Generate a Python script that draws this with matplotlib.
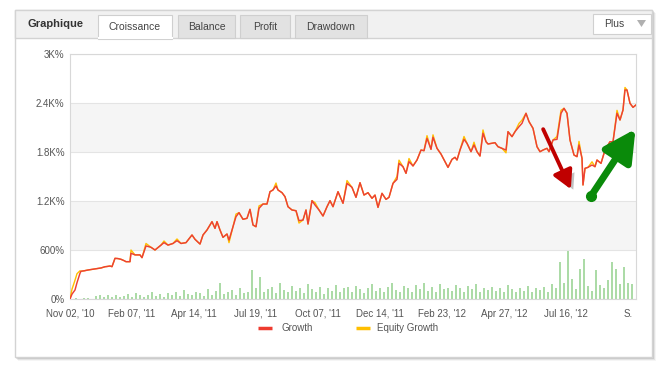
import matplotlib
matplotlib.use("Agg")
import matplotlib.pyplot as plt
from matplotlib.patches import Rectangle, Polygon, FancyArrowPatch
import matplotlib.patheffects as pe

# ---- data (x = point number, y = growth in %) ----
growth_x = [0, 2, 5, 7, 10, 11, 14, 18, 23, 28, 31, 35, 37, 40, 42, 45, 48, 51, 54, 56,
            60, 61, 65, 70, 72, 76, 81, 85, 89, 91, 94, 98, 103, 107, 111, 116, 122, 125, 130, 133,
            137, 142, 145, 147, 150, 153, 157, 159, 163, 166, 169, 173, 177, 180, 183, 186, 189, 193, 197, 200,
            203, 206, 208, 212, 215, 218, 222, 226, 229, 233, 236, 238, 242, 245, 249, 253, 257, 260, 263, 268,
            273, 277, 282, 286, 290, 294, 298, 302, 305, 308, 312, 316, 319, 323, 327, 329, 333, 336, 339, 343,
            347, 351, 354, 357, 361, 363, 367, 371, 375, 378, 382, 385, 387, 390, 394, 397, 401, 404, 407, 410,
            413, 416, 418, 425, 428, 432, 436, 438, 442, 445, 449, 452, 456, 459, 463, 467, 470, 473, 477, 479,
            483, 487, 491, 494, 497, 500, 504, 507, 509, 512, 513, 515, 518, 522, 525, 527, 531, 535, 540, 543,
            547, 550, 553, 555, 557, 560, 563, 566]
growth = [0, 60, 110, 200, 315, 340, 345, 355, 365, 375, 380, 395, 398, 404, 396, 498, 495, 486, 470, 457,
          457, 560, 540, 540, 506, 650, 633, 600, 640, 660, 690, 660, 680, 714, 680, 690, 784, 731, 673, 784,
          845, 947, 865, 947, 845, 755, 796, 722, 885, 1008, 1057, 976, 988, 1098, 906, 885, 1110, 1163, 1163, 1314,
          1335, 1384, 1335, 1302, 1253, 1130, 1090, 1081, 959, 967, 1090, 918, 1204, 1151, 1090, 1016, 1130, 1204, 1130, 1314,
          1172, 1416, 1367, 1245, 1424, 1273, 1302, 1233, 1273, 1122, 1294, 1220, 1245, 1416, 1465, 1661, 1620, 1539, 1682, 1629,
          1702, 1824, 1816, 1967, 1833, 1980, 1845, 1775, 1682, 1612, 1710, 1735, 1702, 1824, 1955, 1906, 1804, 1886, 1804, 1751,
          2029, 1926, 1898, 1914, 1865, 1845, 1824, 2049, 1988, 2049, 2110, 2151, 2274, 2172, 2090, 1865, 1804, 1824, 1845, 1804,
          1947, 1955, 2274, 2335, 2274, 1947, 1763, 1743, 1886, 1723, 1396, 1600, 1612, 1641, 1620, 1702, 1661, 1824, 1926, 1926,
          2274, 2192, 2314, 2559, 2559, 2396, 2347, 2376]
# equity growth follows growth except at these points
equity_diff = {2: 120, 5: 230, 7: 310, 10: 345, 61: 600, 76: 680, 94: 710, 107: 735,
               159: 690, 166: 1040, 189: 1140, 206: 1420, 229: 930, 245: 1180, 277: 1450,
               327: 1500, 329: 1700, 339: 1720, 357: 2000, 363: 2010, 394: 1990, 404: 1920,
               413: 2070, 436: 1790, 449: 2150, 452: 2190, 487: 1990, 491: 2310, 509: 1930,
               522: 1680, 547: 2310, 555: 2590}

bar_vals = [5, 10, 4, 8, 12, 6, 40, 55, 30, 45,
            25, 50, 20, 35, 60, 30, 70, 45, 25, 55,
            80, 40, 65, 30, 75, 50, 85, 35, 110, 60,
            45, 90, 70, 40, 120, 55, 95, 200, 60, 80,
            110, 45, 130, 75, 90, 360, 140, 265, 90, 120,
            150, 70, 200, 110, 85, 160, 95, 130, 70, 180,
            120, 90, 150, 60, 140, 100, 170, 80, 130, 150,
            90, 160, 120, 70, 140, 180, 100, 130, 85, 150,
            200, 110, 90, 160, 130, 80, 170, 120, 190, 100,
            150, 90, 180, 120, 140, 100, 170, 130, 80, 160,
            120, 180, 90, 140, 110, 150, 100, 130, 80, 170,
            120, 90, 140, 100, 160, 80, 130, 110, 150, 90,
            180, 130, 450, 200, 590, 240, 120, 370, 490, 160,
            100, 350, 170, 140, 230, 450, 370, 180, 390, 200,
            180]
bar_x = [2 + 4 * i for i in range(len(bar_vals))]

tick_pos = [0, 62, 124, 186, 248, 310, 372, 434, 496, 558]
tick_labels = ["Nov 02, '10", "Feb 07, '11", "Apr 14, '11", "Jul 19, '11", "Oct 07, '11",
               "Dec 14, '11", "Feb 23, '12", "Apr 27, '12", "Jul 16, '12", "S."]
y_ticks = [0, 600, 1200, 1800, 2400, 3000]
y_labels = ["0%", "600%", "1.2K%", "1.8K%", "2.4K%", "3K%"]

tabs = ["Croissance", "Balance", "Profit", "Drawdown"]

# arrows drawn on the chart (point number, %)
red_arrow = [(472, 2110), (502, 1314)]
green_arrow = [(521, 1261), (567, 2110)]

equity = [equity_diff.get(x, v) for x, v in zip(growth_x, growth)]

plt.rcParams['font.family'] = ['Liberation Sans', 'DejaVu Sans']

W, H = 668, 377
fig = plt.figure(figsize=(W / 100, H / 100), dpi=100)
fig.patch.set_facecolor('white')

# page chrome drawn in pixel space
bg = fig.add_axes([0, 0, 1, 1])
bg.set_xlim(0, W)
bg.set_ylim(H, 0)
bg.axis('off')

for i, a in enumerate([0.10, 0.07, 0.04]):
    bg.add_patch(Rectangle((15 + i + 1, 10 + i + 1), 637 + 1, 347 + 1, facecolor='#000000', alpha=a, lw=0))
bg.add_patch(Rectangle((15, 10), 637, 347, facecolor='white', edgecolor='#d3d3d3', lw=1))
bg.add_patch(Rectangle((15, 10), 637, 28, facecolor='#f1f1f1', edgecolor='#d3d3d3', lw=1))
bg.text(27, 24, "Graphique", fontsize=8, fontweight='bold', color='#333333', va='center')

tab_x = [(98, 172), (178, 235), (240, 290), (295, 367)]
for (x0, x1), name in zip(tab_x, tabs):
    active = name == "Croissance"
    bg.add_patch(Rectangle((x0, 15), x1 - x0, 23 + (1 if active else 0),
                           facecolor='white' if active else '#e2e2e2',
                           edgecolor='#cfcfcf', lw=0.8))
    if active:
        bg.plot([x0 + 0.5, x1 - 0.5], [38.2, 38.2], color='white', lw=1.5)
    bg.text((x0 + x1) / 2, 26.5, name, fontsize=7.5, color='#444444', ha='center', va='center')

bg.add_patch(Rectangle((593, 14), 58, 20, facecolor='white', edgecolor='#d0d0d0', lw=0.8))
bg.text(604, 24, "Plus", fontsize=7.5, color='#444444', va='center')
bg.add_patch(Polygon([(637, 20), (646, 20), (641.5, 27)], closed=True, facecolor='#b0b0b0', lw=0))

# legend
bg.plot([258, 272], [328, 328], color='#ee3b2f', lw=2.5, solid_capstyle='butt')
bg.text(281, 328, "Growth", fontsize=7, color='#555555', va='center')
bg.plot([356, 370], [328, 328], color='#ffbf00', lw=2.5, solid_capstyle='butt')
bg.text(377, 328, "Equity Growth", fontsize=7, color='#555555', va='center')

# chart
ax = fig.add_axes([70 / W, (H - 299) / H, 566 / W, 245 / H])
ax.set_facecolor('white')
ax.set_xlim(0, 566)
ax.set_ylim(0, 3000)
ax.axhspan(600, 1200, color='#f5f5f5', lw=0, zorder=0)
ax.axhspan(1800, 2400, color='#f5f5f5', lw=0, zorder=0)
ax.set_yticks(y_ticks)
ax.set_yticklabels(y_labels)
ax.set_xticks(tick_pos)
ax.set_xticklabels(tick_labels)
ax.yaxis.grid(True, color='#e4e4e4', lw=0.8)
ax.set_axisbelow(True)
ax.tick_params(length=0, labelsize=7, colors='#555555')
ax.tick_params(axis='y', pad=4)
ax.tick_params(axis='x', pad=7)
for s in ax.spines.values():
    s.set_color('#d8d8d8')
    s.set_linewidth(0.8)

ax.bar(bar_x, bar_vals, width=2.6, color='#acdba7', lw=0, zorder=2)
ax.plot(growth_x, equity, color='#ffbf00', lw=1.0, zorder=3)
ax.plot(growth_x, growth, color='#ec4036', lw=1.05, zorder=4)

# annotation arrows
red = FancyArrowPatch(red_arrow[0], red_arrow[1], arrowstyle='-|>,head_length=1.1,head_width=0.6',
                      mutation_scale=10, lw=2.8, color='#c00000', zorder=6)
red.set_path_effects([pe.SimplePatchShadow(offset=(3, -3), shadow_rgbFace='#777777', alpha=0.45), pe.Normal()])
ax.add_patch(red)
green = FancyArrowPatch(green_arrow[0], green_arrow[1], arrowstyle='-|>,head_length=1.9,head_width=1.0',
                        mutation_scale=10, lw=5, color='#0a8a0a', zorder=6, clip_on=False)
ax.add_patch(green)
ax.plot([green_arrow[0][0]], [green_arrow[0][1]], 'o', ms=7, color='#0a8a0a', zorder=6)

fig.savefig("out.png", dpi=100)
